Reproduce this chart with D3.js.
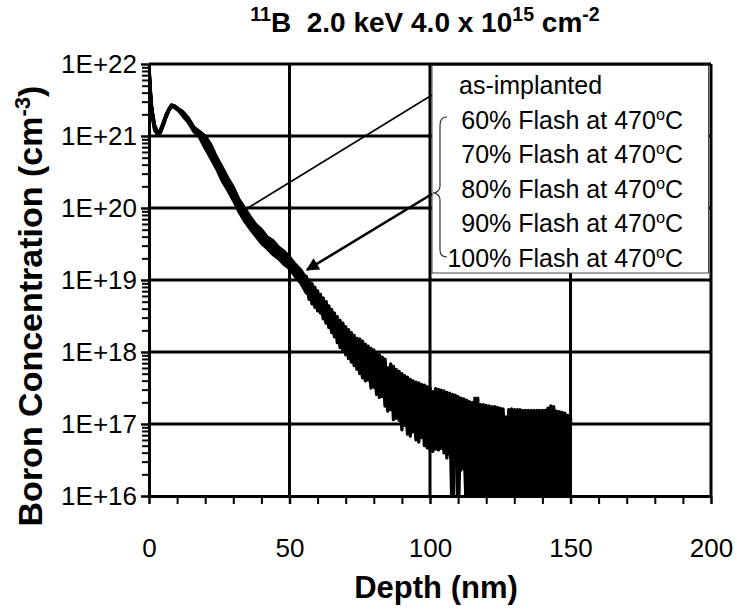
<!DOCTYPE html>
<html>
<head>
<meta charset="utf-8">
<script src="https://cdn.jsdelivr.net/npm/d3@7"></script>
<style>
  body { margin: 0; background: #fff; }
  svg { display: block; font-family: "Liberation Sans", Arial, sans-serif; }
  text { white-space: pre; }
</style>
</head>
<body>
<svg id="chart" width="737" height="611"></svg>
<script>
// depth grid (nm) shared by all SIMS profiles
const depth = [0, 0.5, 1, 2, 3, 4, 5, 6, 7, 8, 9, 10,
  12, 14, 16, 18, 20, 22, 24, 26, 28, 30, 32, 34, 36, 38, 40, 42, 44, 46, 48, 50, 52, 54,
  56, 57, 58, 59, 60, 61, 62, 63, 64, 65, 66, 67, 68, 69, 70, 71, 72, 73, 74,
  75, 76, 77, 78, 79, 80, 81, 82, 83, 84, 85, 86, 87, 88, 89, 90, 91, 92, 93, 94, 95, 96, 97, 98, 99, 100,
  101, 102, 103, 104, 105, 106, 107, 108, 109, 110, 111, 112, 113, 114, 115, 116, 117, 118, 119, 120,
  121, 122, 123, 124, 125, 126, 127, 128, 129, 130, 131, 132, 133, 134, 135, 136, 137, 138, 139, 140,
  141, 142, 143, 144, 145, 146, 147, 148, 149, 150];

// log10 of boron concentration (cm-3)
const asImplanted = [21.97, 21.62, 21.33, 21.10, 21.02, 21.07, 21.17, 21.28, 21.37, 21.43, 21.42, 21.38,
  21.28, 21.19, 21.06, 20.98,
  20.83, 20.69, 20.55, 20.38, 20.25, 20.11, 19.95, 19.82, 19.71, 19.61, 19.51, 19.44, 19.36, 19.30, 19.22, 19.16, 19.05, 18.96,
  18.82, 18.97, 18.76, 18.90, 18.57, 18.74, 18.52, 18.70, 18.34, 18.48, 18.25, 18.45, 18.06, 18.40, 18.05, 18.22, 17.86, 18.18, 17.95,
  18.18, 17.75, 18.00, 17.61, 17.99, 17.64, 17.99, 17.37, 17.72, 17.39, 17.78, 17.44, 17.80, 17.08, 17.56, 17.18, 17.58, 17.04, 17.62, 17.24, 17.40, 16.75, 17.46, 16.98, 17.52, 16.83,
  17.10, 16.65, 17.35, 16.85, 17.46, 16.90, 17.25, 15.50, 17.38, 16.75, 17.36, 16.40, 17.33, 15.50, 17.20, 15.50, 17.28, 16.60, 17.27, 15.50,
  17.15, 15.50, 17.24, 15.50, 17.22, 15.50, 17.00, 16.40, 17.21, 15.50, 17.18, 15.50, 17.19, 15.50, 17.10, 15.50, 17.19, 16.45, 17.15, 15.50,
  17.19, 15.50, 17.25, 15.50, 17.18, 15.50, 17.14, 16.40, 17.10, 15.50];

const flash60 = [21.93, 21.58, 21.36, 21.14, 21.05, 21.05, 21.15, 21.26, 21.35, 21.41, 21.40, 21.37,
  21.30, 21.20, 21.07, 21.00,
  20.87, 20.72, 20.58, 20.44, 20.28, 20.14, 20.00, 19.86, 19.76, 19.64, 19.55, 19.47, 19.41, 19.33, 19.26, 19.19, 19.08, 18.99,
  18.96, 18.73, 18.95, 18.68, 18.79, 18.61, 18.75, 18.43, 18.61, 18.34, 18.54, 18.13, 18.31, 18.14, 18.31, 17.95, 18.27, 17.90, 18.05,
  17.75, 18.09, 17.77, 18.08, 17.62, 17.90, 17.41, 17.89, 17.59, 17.90, 17.26, 17.59, 17.22, 17.76, 17.22, 17.61, 16.98, 17.47, 17.18, 17.60, 16.96, 17.48, 16.81, 17.26, 16.95, 17.51,
  16.62, 17.40, 16.95, 17.47, 16.72, 17.20, 16.65, 17.41, 16.70, 17.30, 16.45, 17.35, 15.50, 17.31, 16.40, 17.29, 15.50, 17.20, 15.50, 17.26,
  15.50, 17.24, 16.50, 17.15, 15.50, 17.21, 15.50, 17.12, 15.50, 17.20, 15.50, 17.10, 16.40, 17.19, 15.50, 17.15, 15.50, 17.18, 15.50, 17.19,
  15.50, 17.22, 16.50, 17.21, 15.50, 17.17, 15.50, 17.12, 15.50, 17.05];

const flash70 = [21.95, 21.55, 21.30, 21.08, 21.03, 21.08, 21.18, 21.28, 21.36, 21.42, 21.41, 21.39,
  21.30, 21.21, 21.08, 21.01,
  20.90, 20.77, 20.60, 20.46, 20.33, 20.16, 20.02, 19.90, 19.77, 19.68, 19.58, 19.51, 19.42, 19.36, 19.30, 19.21, 19.13, 19.02,
  18.88, 19.00, 18.70, 18.84, 18.69, 18.80, 18.46, 18.60, 18.44, 18.59, 18.36, 18.41, 18.14, 18.36, 17.96, 18.31, 18.04, 18.14, 17.76,
  17.97, 17.64, 18.11, 17.79, 17.87, 17.51, 17.93, 17.57, 17.93, 17.25, 17.71, 17.28, 17.72, 17.42, 17.05, 17.70, 17.24, 17.39, 16.83, 17.51, 17.05, 17.57, 17.18, 16.89, 17.33, 16.74,
  17.45, 16.80, 17.15, 16.66, 17.30, 16.53, 17.43, 16.90, 17.20, 16.50, 17.25, 16.55, 17.10, 15.50, 17.30, 15.50, 17.12, 15.50, 17.22, 16.40,
  17.25, 15.50, 17.05, 15.50, 17.18, 15.50, 17.10, 15.50, 17.15, 16.30, 17.20, 15.50, 17.08, 15.50, 17.19, 15.50, 17.10, 15.50, 17.19, 16.30,
  17.12, 15.50, 17.20, 15.50, 17.15, 15.50, 17.16, 15.50, 17.08, 16.40];

const flash80 = [21.90, 21.63, 21.38, 21.15, 21.06, 21.04, 21.14, 21.25, 21.35, 21.42, 21.42, 21.38,
  21.32, 21.23, 21.10, 21.03,
  20.93, 20.80, 20.66, 20.49, 20.35, 20.22, 20.05, 19.92, 19.83, 19.70, 19.62, 19.53, 19.48, 19.39, 19.32, 19.27, 19.15, 19.07,
  19.05, 18.85, 18.86, 18.62, 18.85, 18.54, 18.65, 18.50, 18.64, 18.27, 18.47, 18.21, 18.44, 18.01, 18.18, 18.04, 18.22, 17.81, 18.19,
  17.86, 18.15, 17.66, 17.90, 17.50, 18.03, 17.67, 17.83, 17.38, 17.83, 17.41, 17.83, 17.06, 17.51, 17.73, 17.09, 17.50, 16.86, 17.53, 17.07, 17.58, 16.84, 17.27, 17.45, 16.67, 17.32,
  16.90, 17.49, 16.64, 17.30, 16.98, 17.44, 16.80, 17.10, 16.55, 17.38, 16.36, 17.20, 16.30, 17.25, 15.50, 17.18, 15.50, 17.27, 15.50, 17.15,
  15.50, 17.10, 15.50, 17.23, 16.45, 17.05, 15.50, 17.20, 15.50, 17.10, 15.50, 17.20, 15.50, 17.12, 16.35, 17.19, 15.50, 17.19, 15.50, 17.08,
  15.50, 17.18, 15.50, 17.24, 16.40, 17.12, 15.50, 17.15, 15.50, 17.08];

const flash90 = [21.96, 21.60, 21.34, 21.11, 21.03, 21.06, 21.16, 21.27, 21.36, 21.41, 21.40, 21.37,
  21.33, 21.24, 21.11, 21.05,
  20.96, 20.82, 20.69, 20.53, 20.40, 20.23, 20.10, 19.95, 19.85, 19.75, 19.64, 19.58, 19.49, 19.44, 19.35, 19.29, 19.20, 19.08,
  18.93, 18.79, 18.92, 18.78, 18.63, 18.77, 18.59, 18.70, 18.37, 18.52, 18.21, 18.49, 18.23, 18.27, 18.35, 17.91, 17.95, 18.23, 17.81,
  18.07, 17.87, 17.60, 18.02, 17.81, 17.58, 17.80, 17.44, 17.86, 17.61, 17.18, 17.83, 17.47, 17.25, 17.64, 16.92, 17.67, 17.12, 17.36, 16.89, 17.22, 17.11, 17.55, 16.70, 17.43, 17.12,
  17.28, 16.95, 17.48, 16.78, 17.05, 16.70, 17.38, 16.60, 17.40, 15.50, 17.30, 16.38, 17.28, 16.45, 17.05, 15.50, 17.36, 15.50, 17.05, 15.50,
  17.22, 16.35, 17.20, 15.50, 17.10, 15.50, 17.08, 15.50, 17.20, 15.50, 17.05, 16.50, 17.15, 15.50, 17.18, 15.50, 17.05, 15.50, 17.18, 15.50,
  17.19, 16.40, 17.15, 15.50, 17.10, 15.50, 17.05, 15.50, 17.12, 15.50];

const flash100 = [21.92, 21.57, 21.37, 21.13, 21.05, 21.07, 21.17, 21.29, 21.37, 21.43, 21.41, 21.39,
  21.34, 21.25, 21.12, 21.06,
  21.00, 20.88, 20.71, 20.57, 20.42, 20.29, 20.12, 20.00, 19.88, 19.77, 19.70, 19.60, 19.55, 19.46, 19.40, 19.32, 19.22, 19.14,
  19.02, 18.91, 18.67, 18.87, 18.76, 18.64, 18.72, 18.40, 18.54, 18.41, 18.50, 18.25, 18.40, 18.05, 18.26, 18.18, 18.09, 17.95, 18.14,
  17.70, 17.98, 17.88, 17.73, 18.05, 17.84, 17.54, 17.96, 17.45, 17.76, 17.56, 17.20, 17.64, 17.68, 17.30, 17.44, 17.06, 17.65, 16.92, 17.42, 16.78, 17.30, 16.99, 17.54, 17.05, 16.64,
  16.70, 17.20, 16.85, 17.40, 16.60, 17.35, 16.58, 17.30, 16.85, 17.15, 16.60, 17.32, 15.50, 17.15, 15.50, 17.36, 16.50, 17.10, 15.50, 17.20,
  15.50, 17.18, 15.50, 17.00, 15.50, 17.15, 16.60, 17.05, 15.50, 17.12, 15.50, 17.19, 15.50, 17.05, 15.50, 17.12, 16.55, 17.10, 15.50, 17.15,
  15.50, 17.10, 15.50, 17.12, 15.50, 17.16, 16.50, 17.08, 15.50, 17.10];

const profiles = [asImplanted, flash60, flash70, flash80, flash90, flash100];
const flashLevels = ['60%', '70%', '80%', '90%', '100%'];

const xMajor = [0, 50, 100, 150, 200];
const xMinor = [10, 20, 30, 40, 60, 70, 80, 90, 110, 120, 130, 140, 160, 170, 180, 190];
const yDecades = [1e16, 1e17, 1e18, 1e19, 1e20, 1e21, 1e22];

// callout targets on the profile [depth nm, concentration]
const calloutAsImpl = [35.2, 1.0e20];
const calloutFlash = [56.2, 1.38e19];

const svg = d3.select('#chart');
const plotL = 149, plotR = 711, plotT = 64, plotB = 496;

const x = d3.scaleLinear().domain([0, 200]).range([plotL, plotR]);
const y = d3.scaleLog().domain([1e16, 1e22]).range([plotB, plotT]);

// grid
svg.append('g')
  .selectAll('line')
  .data(xMajor.slice(1))
  .join('line')
  .attr('x1', d => x(d)).attr('x2', d => x(d))
  .attr('y1', plotT).attr('y2', plotB)
  .attr('stroke', '#000').attr('stroke-width', 3);

svg.append('g')
  .selectAll('line')
  .data(yDecades.slice(1))
  .join('line')
  .attr('x1', plotL).attr('x2', plotR)
  .attr('y1', d => y(d)).attr('y2', d => y(d))
  .attr('stroke', '#000').attr('stroke-width', 3);

// profiles
svg.append('clipPath').attr('id', 'plot-clip')
  .append('rect')
  .attr('x', plotL).attr('y', plotT - 3)
  .attr('width', plotR - plotL).attr('height', plotB - plotT + 3);

const line = d3.line()
  .x((d, i) => x(depth[i]))
  .y(d => y(Math.pow(10, d)));

svg.append('g')
  .attr('clip-path', 'url(#plot-clip)')
  .selectAll('path')
  .data(profiles)
  .join('path')
  .attr('d', line)
  .attr('fill', 'none')
  .attr('stroke', '#000')
  .attr('stroke-width', 3.3)
  .attr('stroke-linejoin', 'round');

// axes
const fmt = d => '1E+' + Math.round(Math.log10(d));

const yMinorVals = y.ticks().filter(d => !yDecades.includes(d));
svg.append('g')
  .attr('transform', `translate(${plotL},0)`)
  .call(d3.axisLeft(y).tickValues(yMinorVals).tickSize(7).tickSizeOuter(0).tickFormat(''))
  .call(g => g.select('.domain').remove())
  .call(g => g.selectAll('line').attr('stroke-width', 2));

const yAxis = svg.append('g')
  .attr('transform', `translate(${plotL},0)`)
  .call(d3.axisLeft(y).tickValues(yDecades).tickSize(8).tickSizeOuter(0).tickPadding(4).tickFormat(fmt));
yAxis.select('.domain').attr('stroke-width', 3);
yAxis.selectAll('line').attr('stroke-width', 2.5);
yAxis.selectAll('text')
  .attr('font-size', 26).attr('fill', '#000')
  .attr('font-family', '"Liberation Sans", Arial, sans-serif');

svg.append('g')
  .attr('transform', `translate(0,${plotB})`)
  .call(d3.axisBottom(x).tickValues(xMinor).tickSize(8).tickSizeOuter(0).tickFormat(''))
  .call(g => g.select('.domain').remove())
  .call(g => g.selectAll('line').attr('stroke-width', 2));

const xAxis = svg.append('g')
  .attr('transform', `translate(0,${plotB})`)
  .call(d3.axisBottom(x).tickValues(xMajor).tickSize(8).tickSizeOuter(0).tickPadding(35).tickFormat(d3.format('d')));
xAxis.select('.domain').attr('stroke-width', 3);
xAxis.selectAll('line').attr('stroke-width', 2.5);
xAxis.selectAll('text')
  .attr('font-size', 26).attr('fill', '#000')
  .attr('font-family', '"Liberation Sans", Arial, sans-serif');

// text with superscripts
function rich(sel, parts, supSize = '65%') {
  parts.forEach(([str, sup]) => {
    const t = sel.append('tspan').text(str);
    if (sup) t.attr('baseline-shift', 'super').attr('font-size', supSize);
  });
  return sel;
}

rich(svg.append('text')
  .attr('x', 425).attr('y', 32)
  .attr('text-anchor', 'middle')
  .attr('font-size', 28).attr('font-weight', 'bold'),
  [['11', true], ['B  2.0 keV 4.0 x 10', false], ['15', true], [' cm', false], ['-2', true]], '70%');

rich(svg.append('text')
  .attr('transform', 'translate(42,306) rotate(-90)')
  .attr('text-anchor', 'middle')
  .attr('font-size', 34).attr('font-weight', 'bold'),
  [['Boron Concentration (cm', false], ['-3', true], [')', false]]);

svg.append('text')
  .attr('x', 436).attr('y', 598)
  .attr('text-anchor', 'middle')
  .attr('font-size', 31).attr('font-weight', 'bold')
  .text('Depth (nm)');

// legend box
const lgX = 432, lgY = 65.5, lgW = 276.5, lgH = 207.5;
svg.append('rect')
  .attr('x', lgX).attr('y', lgY).attr('width', lgW).attr('height', lgH)
  .attr('fill', '#fff').attr('stroke', '#444').attr('stroke-width', 1);

const rowY = i => 94 + i * 34.6;
svg.append('text')
  .attr('x', 459).attr('y', rowY(0))
  .attr('font-size', 25)
  .text('as-implanted');

flashLevels.forEach((lvl, i) => {
  rich(svg.append('text')
    .attr('x', 683).attr('y', rowY(i + 1))
    .attr('text-anchor', 'end')
    .attr('font-size', 25),
    [[lvl + ' Flash at 470', false], ['o', true], ['C', false]]);
});

// brace grouping the flash anneals
svg.append('path')
  .attr('d', 'M447,117 C441,117 440,121 440,127 L440,186 C440,190 437,193 433,193 C437,193 440,196 440,200 L440,250 C440,255 442,257 447,257')
  .attr('fill', 'none').attr('stroke', '#333').attr('stroke-width', 1.2);

// callouts
svg.append('defs').append('marker')
  .attr('id', 'arrow')
  .attr('viewBox', '0 0 10 10')
  .attr('refX', 9).attr('refY', 5)
  .attr('markerWidth', 6).attr('markerHeight', 5)
  .attr('markerUnits', 'strokeWidth')
  .attr('orient', 'auto')
  .append('path').attr('d', 'M0,0 L10,5 L0,10 Z').attr('fill', '#000');

svg.append('line')
  .attr('x1', lgX).attr('y1', 95)
  .attr('x2', x(calloutAsImpl[0])).attr('y2', y(calloutAsImpl[1]))
  .attr('stroke', '#000').attr('stroke-width', 1.6);

svg.append('line')
  .attr('x1', lgX).attr('y1', 194)
  .attr('x2', x(calloutFlash[0])).attr('y2', y(calloutFlash[1]))
  .attr('stroke', '#000').attr('stroke-width', 2.6)
  .attr('marker-end', 'url(#arrow)');
</script>
</body>
</html>
